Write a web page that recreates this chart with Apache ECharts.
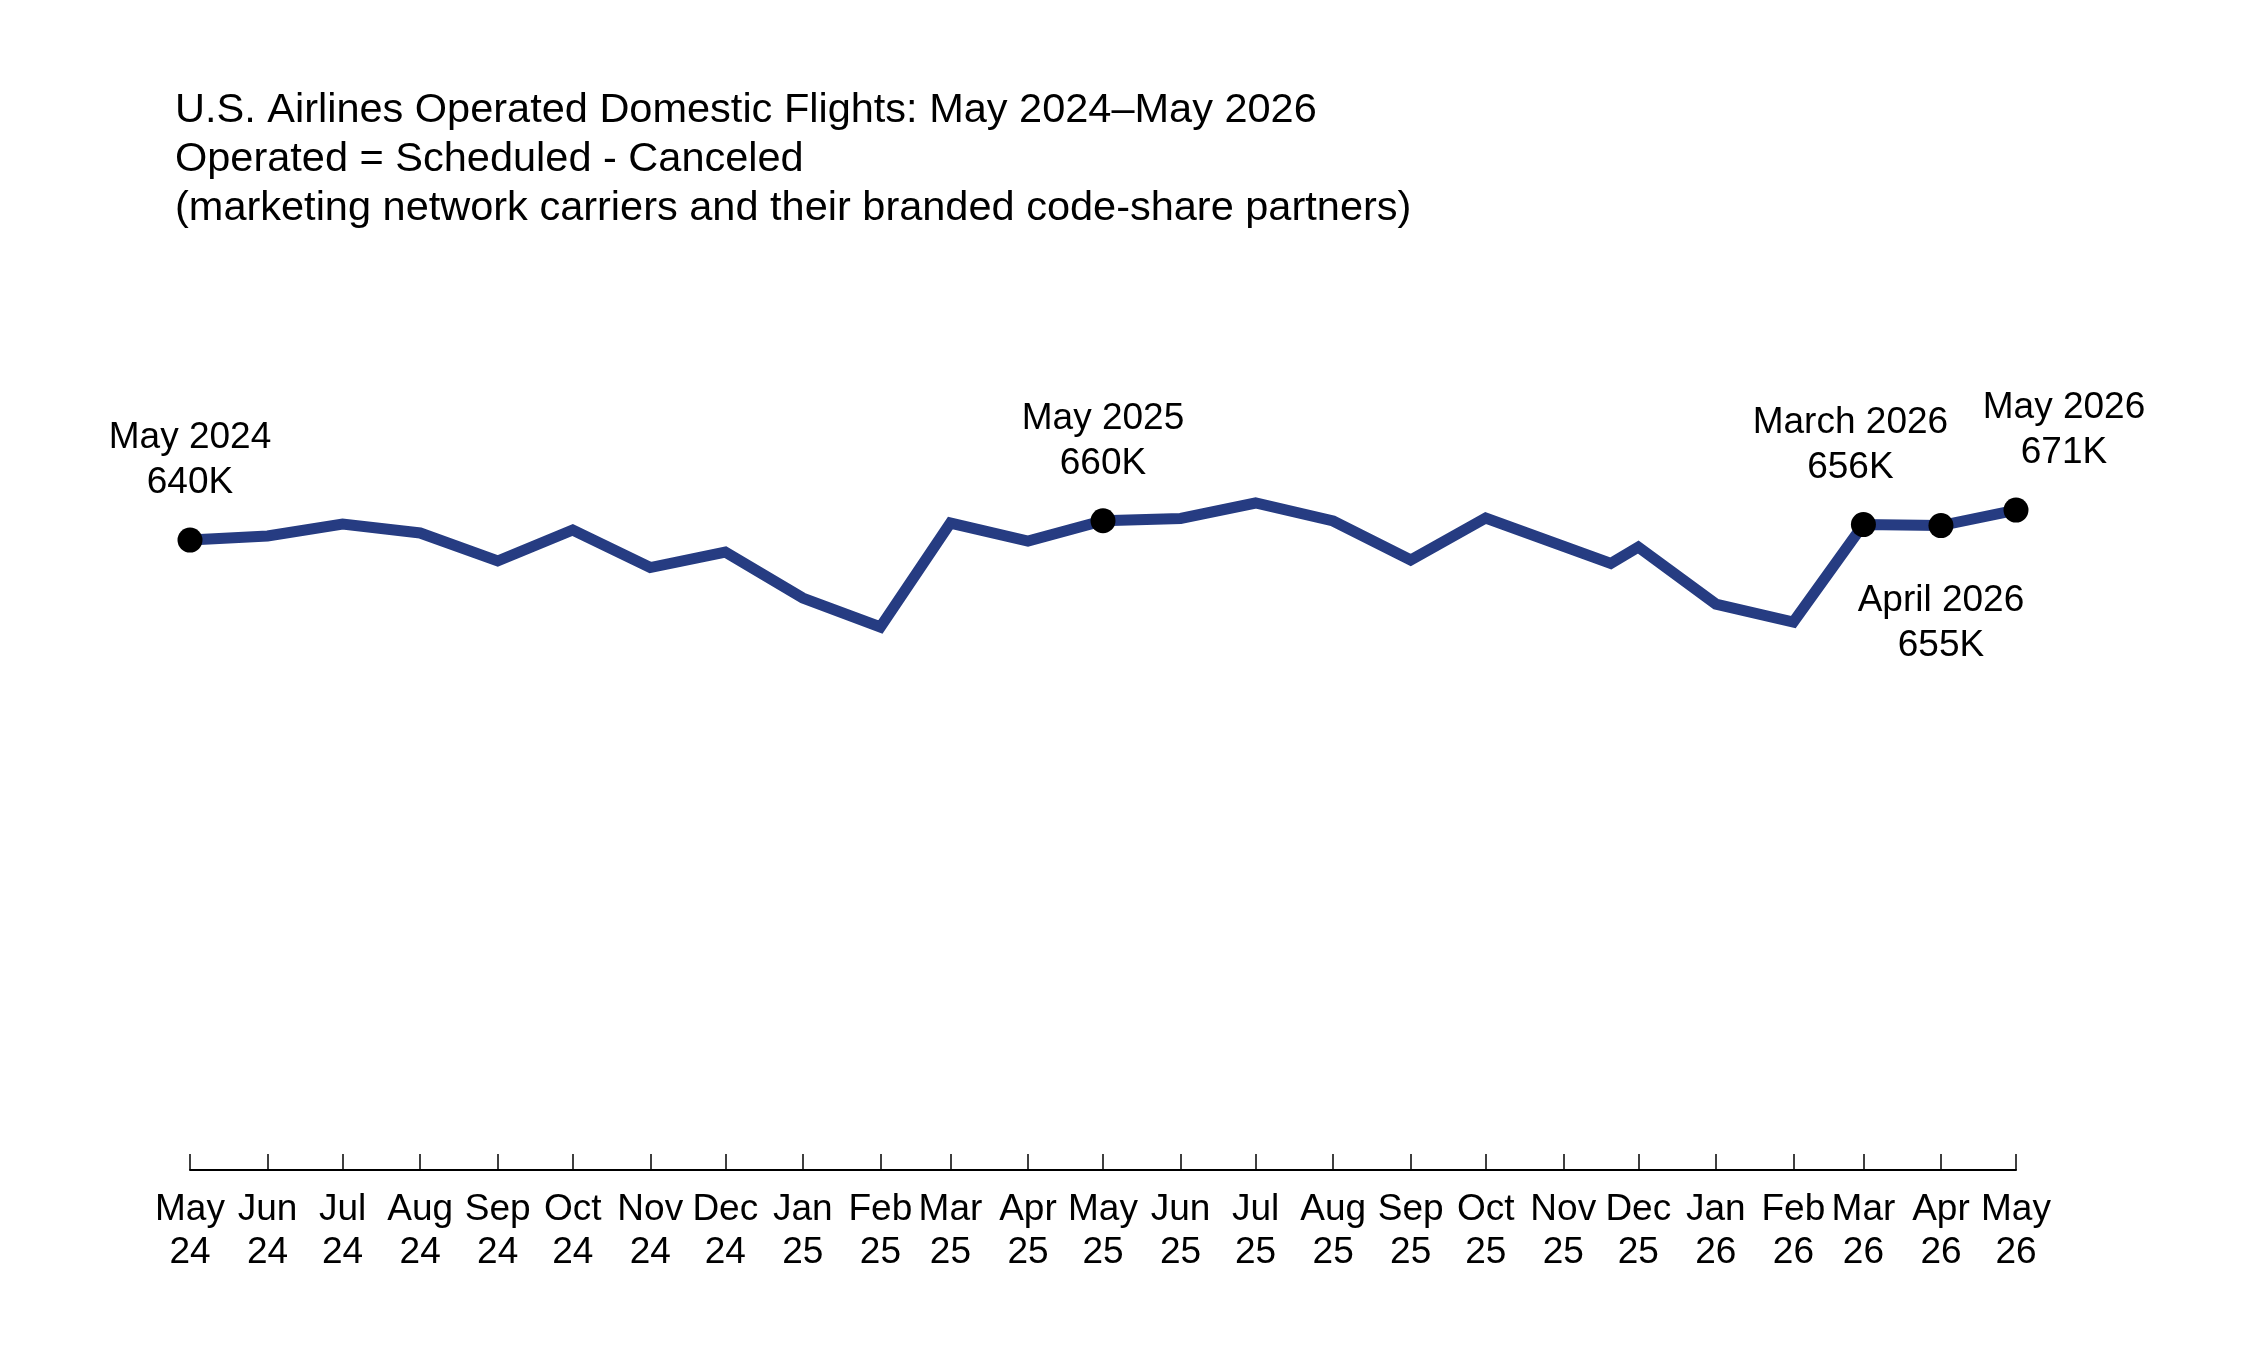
<!DOCTYPE html>
<html>
<head>
<meta charset="utf-8">
<title>U.S. Airlines Operated Domestic Flights</title>
<script src="https://cdn.jsdelivr.net/npm/echarts@6/dist/echarts.min.js"></script>
<style>
  html, body { margin: 0; padding: 0; background: #fff; }
  #chart { width: 2245px; height: 1365px; }
</style>
</head>
<body>
<div id="chart"></div>
<script>
// 数据：每月运营航班（千）
const dates = ['2024-05-01', '2024-06-01', '2024-07-01', '2024-08-01', '2024-09-01', '2024-10-01',
  '2024-11-01', '2024-12-01', '2025-01-01', '2025-02-01', '2025-03-01', '2025-04-01',
  '2025-05-01', '2025-06-01', '2025-07-01', '2025-08-01', '2025-09-01', '2025-10-01',
  '2025-11-20', '2025-12-01', '2026-01-01', '2026-02-01', '2026-03-01', '2026-04-01', '2026-05-01'];
const flights = [640, 644.2, 656.6, 647.3, 618.4, 650.4,
  611.6, 627.6, 580.1, 550.2, 657.6, 639,
  660, 662.3, 678.3, 659.7, 619.4, 662.8,
  615.8, 632.8, 573.9, 555.3, 656, 655, 671];

// 标注点
const markIndex = [0, 12, 22, 23, 24];
const markNames = ['May 2024', 'May 2025', 'March 2026', 'April 2026', 'May 2026'];

// 刻度
const tickDates = ['2024-05-01', '2024-06-01', '2024-07-01', '2024-08-01', '2024-09-01', '2024-10-01',
  '2024-11-01', '2024-12-01', '2025-01-01', '2025-02-01', '2025-03-01', '2025-04-01',
  '2025-05-01', '2025-06-01', '2025-07-01', '2025-08-01', '2025-09-01', '2025-10-01',
  '2025-11-01', '2025-12-01', '2026-01-01', '2026-02-01', '2026-03-01', '2026-04-01', '2026-05-01'];
const tickLabels = ['May\n24', 'Jun\n24', 'Jul\n24', 'Aug\n24', 'Sep\n24', 'Oct\n24',
  'Nov\n24', 'Dec\n24', 'Jan\n25', 'Feb\n25', 'Mar\n25', 'Apr\n25',
  'May\n25', 'Jun\n25', 'Jul\n25', 'Aug\n25', 'Sep\n25', 'Oct\n25',
  'Nov\n25', 'Dec\n25', 'Jan\n26', 'Feb\n26', 'Mar\n26', 'Apr\n26', 'May\n26'];

const FONT = 'Liberation Sans, Arial, sans-serif';
// 日期 -> 从 2024-05-01 起的天数
const DAY0 = Date.UTC(2024, 4, 1);
const dayOf = d => Math.round((new Date(d + 'T00:00:00Z').getTime() - DAY0) / 86400000);
const tickDays = tickDates.map(dayOf);

// 每个标注的位置
const labelPos = {
  'May 2024': { position: 'top', distance: 22, offset: [0, 0] },
  'May 2025': { position: 'top', distance: 22, offset: [0, 0] },
  'March 2026': { position: 'top', distance: 22, offset: [-13, 0] },
  'April 2026': { position: 'bottom', distance: 40, offset: [0, 0] },
  'May 2026': { position: 'top', distance: 22, offset: [48, 0] }
};

const lineData = dates.map((d, i) => [dayOf(d), flights[i]]);
const markData = markIndex.map((idx, k) => ({
  name: markNames[k],
  value: [dayOf(dates[idx]), flights[idx]],
  label: labelPos[markNames[k]]
}));

const chart = echarts.init(document.getElementById('chart'), null, { renderer: 'canvas' });
const option = {
  animation: false,
  backgroundColor: '#ffffff',
  title: {
    text: 'U.S. Airlines Operated Domestic Flights: May 2024\u2013May 2026\nOperated = Scheduled - Canceled\n(marketing network carriers and their branded code-share partners)',
    left: 175,
    top: 86,
    padding: 0,
    textStyle: {
      fontFamily: FONT,
      fontSize: 41.5,
      fontWeight: 'normal',
      lineHeight: 49,
      color: '#000'
    }
  },
  grid: {
    left: 190,
    right: 229,
    top: 482,
    bottom: 205.5
  },
  xAxis: {
    type: 'value',
    min: tickDays[0],
    max: tickDays[tickDays.length - 1],
    offset: 10.5,
    splitLine: { show: false },
    axisLine: { show: true, onZero: false, lineStyle: { color: '#000', width: 2 } },
    axisTick: {
      show: true,
      inside: true,
      length: 16,
      customValues: tickDays,
      lineStyle: { color: '#000', width: 1.5 }
    },
    axisLabel: {
      customValues: tickDays,
      margin: 18,
      fontFamily: FONT,
      fontSize: 37,
      lineHeight: 43,
      color: '#000',
      hideOverlap: false,
      formatter: function (value) {
        const i = tickDays.indexOf(value);
        return i >= 0 ? tickLabels[i] : '';
      }
    }
  },
  yAxis: {
    type: 'value',
    min: 0,
    max: 700,
    show: false,
    splitLine: { show: false }
  },
  series: [
    {
      name: 'Operated',
      type: 'line',
      data: lineData,
      showSymbol: false,
      symbol: 'none',
      lineStyle: { color: '#263C82', width: 11, join: 'miter' },
      z: 2
    },
    {
      name: 'Marks',
      type: 'scatter',
      data: markData,
      symbol: 'circle',
      symbolSize: 25,
      itemStyle: { color: '#000', opacity: 1 },
      label: {
        show: true,
        fontFamily: FONT,
        fontSize: 37,
        lineHeight: 45,
        color: '#000',
        opacity: 1,
        align: 'center',
        formatter: function (p) {
          return p.name + '\n' + Math.round(p.value[1]) + 'K';
        }
      },
      z: 3
    }
  ]
};
chart.setOption(option);
</script>
</body>
</html>
